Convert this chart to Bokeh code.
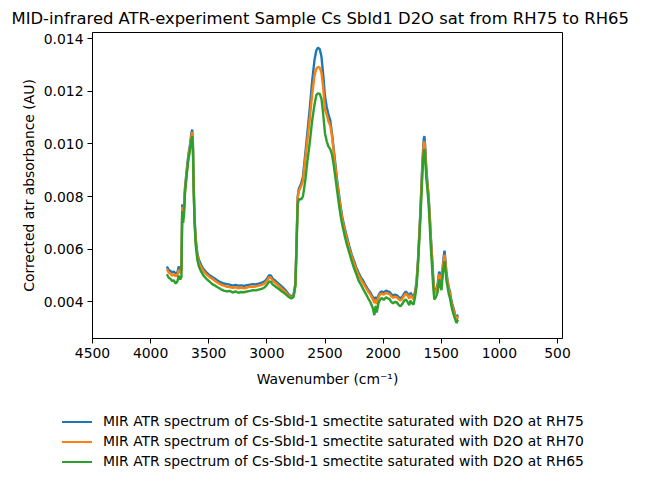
from bokeh.plotting import figure
from bokeh.layouts import column
from bokeh.models import Range1d, FixedTicker, NumeralTickFormatter, Div
from bokeh.embed import file_html
from bokeh.resources import INLINE

# Wavenumbers (cm^-1)
wavenumber = [3860, 3845, 3830, 3815, 3800, 3785, 3770, 3758, 3745, 3735, 3728, 3720, 3712, 3705,
              3690, 3675, 3660, 3650, 3642, 3636, 3630, 3622, 3612, 3598, 3585, 3565, 3545, 3520,
              3495, 3470, 3445, 3420, 3395, 3370, 3345, 3320, 3295, 3270, 3245, 3220, 3195, 3170,
              3145, 3120, 3095, 3070, 3045, 3020, 3000, 2980, 2965, 2950, 2930, 2900, 2870, 2840,
              2815, 2790, 2770, 2755, 2745, 2735, 2725, 2705, 2690, 2670, 2650, 2630, 2610, 2590,
              2575, 2560, 2545, 2530, 2515, 2500, 2485, 2470, 2455, 2440, 2425, 2410, 2395, 2380,
              2365, 2350, 2330, 2310, 2290, 2270, 2250, 2230, 2210, 2190, 2170, 2150, 2130, 2110,
              2090, 2075, 2065, 2055, 2040, 2025, 2010, 1995, 1975, 1960, 1945, 1930, 1915, 1900,
              1880, 1865, 1850, 1835, 1820, 1805, 1790, 1775, 1765, 1750, 1738, 1725, 1712, 1700,
              1690, 1680, 1670, 1660, 1650, 1645, 1638, 1630, 1620, 1610, 1600, 1590, 1580, 1570,
              1560, 1550, 1540, 1530, 1520, 1515, 1505, 1498, 1490, 1480, 1472, 1465, 1455, 1445,
              1435, 1425, 1415, 1405, 1395, 1385, 1375, 1368, 1360, 1352]

rh75 = [0.00535, 0.00522, 0.00518, 0.00512, 0.00515, 0.00508, 0.00512, 0.00535, 0.00520, 0.00530,
        0.00770, 0.00762, 0.00760, 0.00830, 0.00900, 0.00960, 0.01000, 0.01040, 0.01055, 0.01000,
        0.00850, 0.00720, 0.00640, 0.00585, 0.00560, 0.00540, 0.00525, 0.00512, 0.00502, 0.00495,
        0.00488, 0.00480, 0.00474, 0.00470, 0.00468, 0.00466, 0.00462, 0.00465, 0.00462, 0.00463,
        0.00461, 0.00464, 0.00466, 0.00468, 0.00467, 0.00470, 0.00473, 0.00478, 0.00488, 0.00502,
        0.00500, 0.00488, 0.00482, 0.00470, 0.00458, 0.00445, 0.00430, 0.00420, 0.00428, 0.00470,
        0.00620, 0.00800, 0.00830, 0.00850, 0.00875, 0.00960, 0.01050, 0.01140, 0.01240, 0.01320,
        0.01355, 0.01365, 0.01360, 0.01330, 0.01260, 0.01180, 0.01140, 0.01110, 0.01090, 0.01040,
        0.00980, 0.00920, 0.00860, 0.00810, 0.00760, 0.00720, 0.00680, 0.00645, 0.00610, 0.00580,
        0.00556, 0.00530, 0.00510, 0.00492, 0.00480, 0.00462, 0.00448, 0.00436, 0.00420, 0.00405,
        0.00420, 0.00400, 0.00425, 0.00437, 0.00440, 0.00436, 0.00443, 0.00440, 0.00438, 0.00430,
        0.00424, 0.00428, 0.00425, 0.00418, 0.00414, 0.00420, 0.00432, 0.00440, 0.00432, 0.00420,
        0.00435, 0.00425, 0.00418, 0.00440, 0.00480, 0.00560, 0.00650, 0.00740, 0.00850, 0.00950,
        0.01020, 0.01030, 0.00990, 0.00920, 0.00860, 0.00810, 0.00740, 0.00650, 0.00580, 0.00500,
        0.00440, 0.00445, 0.00452, 0.00470, 0.00510, 0.00515, 0.00480, 0.00470, 0.00520, 0.00570,
        0.00595, 0.00565, 0.00510, 0.00480, 0.00455, 0.00440, 0.00410, 0.00392, 0.00378, 0.00360,
        0.00345, 0.00336, 0.00348, 0.00350]

rh70 = [0.00525, 0.00512, 0.00508, 0.00500, 0.00505, 0.00498, 0.00502, 0.00522, 0.00510, 0.00520,
        0.00760, 0.00755, 0.00752, 0.00820, 0.00890, 0.00950, 0.00990, 0.01030, 0.01045, 0.00990,
        0.00840, 0.00710, 0.00630, 0.00575, 0.00550, 0.00532, 0.00517, 0.00505, 0.00495, 0.00488,
        0.00480, 0.00472, 0.00466, 0.00462, 0.00458, 0.00457, 0.00454, 0.00456, 0.00452, 0.00455,
        0.00452, 0.00455, 0.00458, 0.00458, 0.00459, 0.00462, 0.00465, 0.00470, 0.00480, 0.00494,
        0.00492, 0.00480, 0.00474, 0.00462, 0.00450, 0.00438, 0.00425, 0.00417, 0.00424, 0.00465,
        0.00610, 0.00795, 0.00820, 0.00840, 0.00860, 0.00940, 0.01020, 0.01100, 0.01190, 0.01260,
        0.01285, 0.01292, 0.01290, 0.01270, 0.01210, 0.01130, 0.01110, 0.01085, 0.01070, 0.01030,
        0.00970, 0.00910, 0.00850, 0.00800, 0.00750, 0.00710, 0.00670, 0.00635, 0.00600, 0.00572,
        0.00548, 0.00522, 0.00500, 0.00484, 0.00470, 0.00455, 0.00440, 0.00428, 0.00412, 0.00396,
        0.00410, 0.00392, 0.00418, 0.00430, 0.00432, 0.00428, 0.00435, 0.00432, 0.00430, 0.00422,
        0.00416, 0.00420, 0.00417, 0.00410, 0.00406, 0.00412, 0.00424, 0.00432, 0.00425, 0.00413,
        0.00427, 0.00418, 0.00410, 0.00432, 0.00472, 0.00552, 0.00640, 0.00730, 0.00835, 0.00935,
        0.01000, 0.01010, 0.00975, 0.00905, 0.00850, 0.00800, 0.00730, 0.00640, 0.00570, 0.00490,
        0.00432, 0.00438, 0.00445, 0.00462, 0.00500, 0.00505, 0.00472, 0.00462, 0.00510, 0.00555,
        0.00580, 0.00552, 0.00500, 0.00472, 0.00448, 0.00432, 0.00402, 0.00385, 0.00372, 0.00355,
        0.00340, 0.00332, 0.00342, 0.00343]

rh65 = [0.00505, 0.00492, 0.00488, 0.00480, 0.00482, 0.00470, 0.00478, 0.00500, 0.00485, 0.00495,
        0.00745, 0.00700, 0.00735, 0.00810, 0.00880, 0.00940, 0.00980, 0.01015, 0.01030, 0.00980,
        0.00830, 0.00700, 0.00615, 0.00560, 0.00535, 0.00515, 0.00500, 0.00488, 0.00478, 0.00468,
        0.00462, 0.00455, 0.00448, 0.00443, 0.00440, 0.00442, 0.00436, 0.00440, 0.00435, 0.00438,
        0.00437, 0.00440, 0.00442, 0.00445, 0.00444, 0.00447, 0.00450, 0.00455, 0.00465, 0.00478,
        0.00476, 0.00466, 0.00460, 0.00450, 0.00440, 0.00430, 0.00420, 0.00413, 0.00420, 0.00460,
        0.00600, 0.00770, 0.00790, 0.00790, 0.00800, 0.00860, 0.00940, 0.01010, 0.01090, 0.01150,
        0.01185, 0.01192, 0.01190, 0.01170, 0.01110, 0.01040, 0.01010, 0.00990, 0.00980, 0.00960,
        0.00920, 0.00870, 0.00820, 0.00770, 0.00725, 0.00690, 0.00650, 0.00615, 0.00585, 0.00555,
        0.00528, 0.00505, 0.00480, 0.00465, 0.00448, 0.00432, 0.00415, 0.00400, 0.00378, 0.00350,
        0.00385, 0.00360, 0.00395, 0.00410, 0.00415, 0.00408, 0.00418, 0.00414, 0.00412, 0.00400,
        0.00395, 0.00400, 0.00398, 0.00388, 0.00384, 0.00392, 0.00404, 0.00410, 0.00400, 0.00388,
        0.00405, 0.00395, 0.00390, 0.00420, 0.00460, 0.00540, 0.00625, 0.00710, 0.00810, 0.00905,
        0.00970, 0.00980, 0.00950, 0.00880, 0.00830, 0.00780, 0.00700, 0.00610, 0.00540, 0.00465,
        0.00410, 0.00415, 0.00425, 0.00440, 0.00480, 0.00485, 0.00455, 0.00445, 0.00490, 0.00530,
        0.00555, 0.00530, 0.00480, 0.00455, 0.00430, 0.00415, 0.00390, 0.00370, 0.00355, 0.00340,
        0.00328, 0.00320, 0.00330, 0.00332]

series_labels = [
    "MIR ATR spectrum of Cs-SbId-1 smectite saturated with D2O at RH75",
    "MIR ATR spectrum of Cs-SbId-1 smectite saturated with D2O at RH70",
    "MIR ATR spectrum of Cs-SbId-1 smectite saturated with D2O at RH65",
]
series_colors = ["#1f77b4", "#ff7f0e", "#2ca02c"]
x_ticks = [4500, 4000, 3500, 3000, 2500, 2000, 1500, 1000, 500]
y_ticks = [0.004, 0.006, 0.008, 0.010, 0.012, 0.014]

FONT = "DejaVu Sans"
W = 629
H_MAIN = 397
H_LEG = 72

p = figure(width=W, height=H_MAIN, output_backend="svg", toolbar_location=None,
           x_range=Range1d(4500, 457), y_range=Range1d(0.002614, 0.01423),
           title="MID-infrared ATR-experiment Sample Cs SbId1 D2O sat from RH75 to RH65",
           min_border_left=92, min_border_right=67, min_border_top=32, min_border_bottom=59)

p.title.text_font = FONT
p.title.text_font_size = "16.4px"
p.title.text_font_style = "normal"
p.title.align = "left"
p.title.offset = -81
p.title.standoff = 9
p.title.text_color = "black"

p.xgrid.visible = False
p.ygrid.visible = False
p.outline_line_color = "black"
p.outline_line_width = 1
p.background_fill_color = "white"
p.border_fill_color = "white"

for ax in (p.xaxis[0], p.yaxis[0]):
    ax.major_label_text_font = FONT
    ax.major_label_text_font_size = "13.9px"
    ax.major_label_text_color = "black"
    ax.axis_label_text_font = FONT
    ax.axis_label_text_font_size = "13.9px"
    ax.axis_label_text_font_style = "normal"
    ax.axis_label_text_color = "black"
    ax.minor_tick_line_color = None
    ax.major_tick_out = 5
    ax.major_tick_in = 0
    ax.major_tick_line_color = "black"
    ax.axis_line_color = "black"
    ax.major_label_standoff = 4

p.xaxis.ticker = FixedTicker(ticks=x_ticks)
p.yaxis.ticker = FixedTicker(ticks=y_ticks)
p.yaxis.formatter = NumeralTickFormatter(format="0.000")
p.xaxis.axis_label = "Wavenumber (cm\u207b\u00b9)"
p.yaxis.axis_label = "Corrected atr absorbance (AU)"
p.xaxis.axis_label_standoff = 10
p.yaxis.axis_label_standoff = 4

for ys, col in zip([rh75, rh70, rh65], series_colors):
    p.line(wavenumber, ys, line_color=col, line_width=2.4)

# Legend below the axes (matplotlib-style, outside the plot area, no frame)
rows = []
for col, lab in zip(series_colors, series_labels):
    rows.append(
        "<div style='display:flex;align-items:center;height:20px;white-space:nowrap'>"
        f"<span style='display:inline-block;width:30px;height:2px;background:{col};"
        "margin-right:11px'></span>"
        f"<span>{lab}</span></div>"
    )
legend_html = (
    f"<div style='font-family:\"{FONT}\";font-size:13.9px;color:black;"
    "padding-top:15px;padding-left:62px'>" + "".join(rows) + "</div>"
)
legend_div = Div(text=legend_html, width=W, height=H_LEG, margin=0)

layout = column(p, legend_div, spacing=0)
open("out.html", "w").write(file_html(layout, INLINE))
